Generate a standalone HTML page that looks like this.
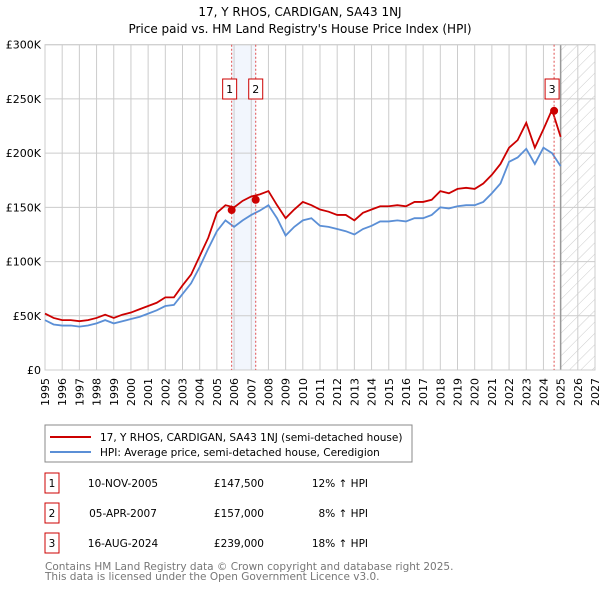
<!DOCTYPE html>
<html><head><meta charset="utf-8"><style>
body{margin:0;background:#fff;font-family:"DejaVu Sans","Liberation Sans",sans-serif;}
svg text{font-family:"DejaVu Sans","Liberation Sans",sans-serif;}
</style></head><body>
<svg id="c" width="600" height="590" xmlns="http://www.w3.org/2000/svg">
<defs><pattern id="hatch" width="8" height="8" patternUnits="userSpaceOnUse" patternTransform="rotate(45)"><line x1="0" y1="0" x2="0" y2="8" stroke="#ccc" stroke-width="1"/></pattern></defs>
<text x="300" y="16" text-anchor="middle" font-size="12">17, Y RHOS, CARDIGAN, SA43 1NJ</text>
<text x="300" y="33" text-anchor="middle" font-size="12">Price paid vs. HM Land Registry's House Price Index (HPI)</text>
<g id="grid"></g><g id="marks"></g><g id="axes"></g>
<rect x="45" y="425" width="367" height="37" fill="#fff" stroke="#888"/>
<line x1="50" y1="437" x2="91" y2="437" stroke="#cc0000" stroke-width="2"/>
<text x="100" y="441" font-size="10.5">17, Y RHOS, CARDIGAN, SA43 1NJ (semi-detached house)</text>
<line x1="50" y1="452" x2="91" y2="452" stroke="#5b8fd6" stroke-width="2"/>
<text x="100" y="456" font-size="10.5">HPI: Average price, semi-detached house, Ceredigion</text>
<g id="table" font-size="10.5"></g>
<text x="45" y="570" font-size="10.5" fill="#777">Contains HM Land Registry data © Crown copyright and database right 2025.</text>
<text x="45" y="580" font-size="10.5" fill="#777">This data is licensed under the Open Government Licence v3.0.</text>
</svg>
<script>
const years=[1995,1995.5,1996,1996.5,1997,1997.5,1998,1998.5,1999,1999.5,2000,2000.5,2001,2001.5,2002,2002.5,2003,2003.5,2004,2004.5,2005,2005.5,2006,2006.5,2007,2007.5,2008,2008.5,2009,2009.5,2010,2010.5,2011,2011.5,2012,2012.5,2013,2013.5,2014,2014.5,2015,2015.5,2016,2016.5,2017,2017.5,2018,2018.5,2019,2019.5,2020,2020.5,2021,2021.5,2022,2022.5,2023,2023.5,2024,2024.5,2025];
const hpi=[46,42,41,41,40,41,43,46,43,45,47,49,52,55,59,60,70,80,95,112,128,138,132,138,143,147,152,140,124,132,138,140,133,132,130,128,125,130,133,137,137,138,137,140,140,143,150,149,151,152,152,155,163,172,192,196,204,190,205,200,188];
const red=[52,48,46,46,45,46,48,51,48,51,53,56,59,62,67,67,78,88,105,122,145,152,150,156,160,162,165,152,140,148,155,152,148,146,143,143,138,145,148,151,151,152,151,155,155,157,165,163,167,168,167,172,180,190,205,212,228,205,222,240,215];
const saleYears=[2005.86,2007.26,2024.62];
const salePrices=[147500,157000,239000];
const saleDates=["10-NOV-2005","05-APR-2007","16-AUG-2024"];
const saleLabels=["£147,500","£157,000","£239,000"];
const salePct=["12% ↑ HPI","8% ↑ HPI","18% ↑ HPI"];
const yTicks=[0,50000,100000,150000,200000,250000,300000];
const yTickLabels=["£0","£50K","£100K","£150K","£200K","£250K","£300K"];
const NS="http://www.w3.org/2000/svg";
const X0=45,X1=595,Y0=370,Y1=44.7,YMIN=1995,YMAX=2027;
const xs=y=>X0+(y-YMIN)/(YMAX-YMIN)*(X1-X0);
const ys=v=>Y0-v/300000*(Y0-Y1);
function mk(p,t,a){const e=document.createElementNS(NS,t);for(const k in a)e.setAttribute(k,a[k]);p.appendChild(e);return e;}
const grid=document.getElementById('grid'),marks=document.getElementById('marks'),axes=document.getElementById('axes'),table=document.getElementById('table');
let r=mk(grid,'rect',{x:xs(saleYears[0]),y:Y1,width:xs(saleYears[1])-xs(saleYears[0]),height:Y0-Y1,fill:'#f2f6fd'});


for(let y=YMIN;y<=YMAX;y++){const l=mk(grid,'line',{x1:xs(y),x2:xs(y),y1:Y1,y2:Y0,stroke:'#ccc','stroke-width':1});


const t=mk(axes,'text',{x:0,y:0,'font-size':11,'text-anchor':'end',transform:`translate(${xs(y)+4},${Y0+8}) rotate(-90)`});t.textContent=y;

}
yTicks.forEach((v,i)=>{const l=mk(grid,'line',{x1:X0,x2:X1,y1:ys(v),y2:ys(v),stroke:'#ccc','stroke-width':1});


const t=mk(axes,'text',{x:41,y:ys(v)+4,'font-size':11,'text-anchor':'end'});t.textContent=yTickLabels[i];

});
const h=mk(grid,'rect',{x:xs(2025),y:Y1,width:X1-xs(2025),height:Y0-Y1,fill:'url(#hatch)'});


const vl=mk(grid,'line',{x1:xs(2025),x2:xs(2025),y1:Y1,y2:Y0,stroke:'#999','stroke-width':1.5});


const fr=mk(grid,'rect',{x:X0,y:Y1,width:X1-X0,height:Y0-Y1,fill:'none',stroke:'#ccc'});


const pb=mk(marks,'polyline',{points:years.map((y,i)=>xs(y)+','+ys(hpi[i]*1000)).join(' '),fill:'none',stroke:'#5b8fd6','stroke-width':1.8});


const pr=mk(marks,'polyline',{points:years.map((y,i)=>xs(y)+','+ys(red[i]*1000)).join(' '),fill:'none',stroke:'#cc0000','stroke-width':1.8});


saleYears.forEach((y,i)=>{const l=mk(marks,'line',{x1:xs(y),x2:xs(y),y1:Y1,y2:Y0,stroke:'#e05050','stroke-width':1,'stroke-dasharray':'2,2'});


const c=mk(marks,'circle',{cx:xs(y),cy:ys(salePrices[i]),r:4,fill:'#cc0000'});


const bx=mk(marks,'rect',{x:0,y:79,width:14,height:20,fill:'#fff',stroke:'#cc0000'});
bx.setAttribute('x',xs(y)-(i==2?9:7)-(i==0?2:0));


const t=mk(marks,'text',{x:+bx.getAttribute('x')+7,y:93,'font-size':11,'text-anchor':'middle'});t.textContent=i+1;


const ry=483+i*30;
const tb=mk(table,'rect',{x:45,y:ry-10,width:14,height:20,fill:'#fff',stroke:'#cc0000'});


const tn=mk(table,'text',{x:52,y:ry+4,'text-anchor':'middle'});tn.textContent=i+1;


const td=mk(table,'text',{x:123,y:ry+4,'text-anchor':'middle'});td.textContent=saleDates[i];


const tp=mk(table,'text',{x:264,y:ry+4,'text-anchor':'end'});tp.textContent=saleLabels[i];


const tq=mk(table,'text',{x:368,y:ry+4,'text-anchor':'end'});tq.textContent=salePct[i];

});
</script>
</body></html>
